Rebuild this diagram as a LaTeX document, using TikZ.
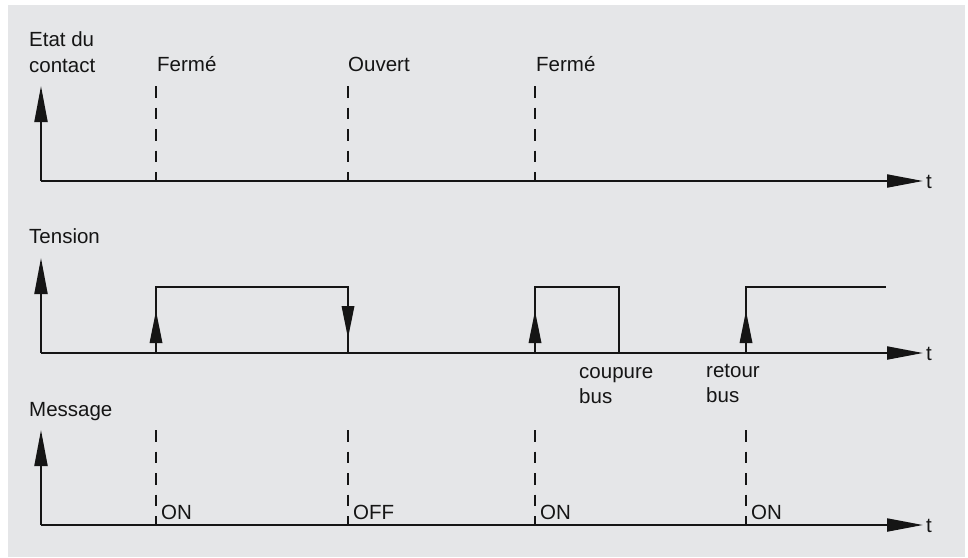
\documentclass[tikz,border=0pt]{standalone}
\usepackage{fontspec}
\setmainfont{Liberation Sans}
\usetikzlibrary{arrows.meta}
\definecolor{bg}{HTML}{E5E6E8}
\definecolor{ink}{HTML}{151515}
\begin{document}
\begin{tikzpicture}[x=1pt,y=-1pt,
  lbl/.style={anchor=base west,inner sep=0pt,text=ink,font=\fontsize{20.5}{24}\selectfont},
  axis/.style={draw=ink,line width=2pt,-{Triangle[length=36pt,width=13pt]}},
  sig/.style={draw=ink,line width=2pt},
  dashmark/.style={draw=ink,line width=2pt,dash pattern=on 11.5pt off 10pt},
  tipfill/.style={fill=ink}]
\useasboundingbox (0,0) rectangle (968,557);
\fill[bg] (8,5) rectangle (965,557);

% ---------- Section 1: Etat du contact ----------
\coordinate (o1) at (41,181);
\coordinate (y1) at (41,86);
\coordinate (x1) at (923,181);
\draw[axis] (o1) -- (y1);
\draw[axis] (o1) -- (x1);
\node[lbl] (t1) at (926,188) {t};
\node[lbl] (etat) at (29,46) {Etat du};
\node[lbl] (contact) at (29,72) {contact};
\foreach \xx/\nm in {156/a,348/b,535/c}{
  \coordinate (d1\nm) at (\xx,86);
  \coordinate (e1\nm) at (\xx,181);
  \draw[dashmark] (d1\nm) -- (e1\nm);
}
\node[lbl] (ferme1) at (157,71) {Fermé};
\node[lbl] (ouvert) at (348,71) {Ouvert};
\node[lbl] (ferme2) at (536,71) {Fermé};

% ---------- Section 2: Tension ----------
\coordinate (o2) at (41,353);
\coordinate (y2) at (41,258);
\coordinate (x2) at (923,353);
\draw[axis] (o2) -- (y2);
\draw[axis] (o2) -- (x2);
\node[lbl] (t2) at (926,360) {t};
\node[lbl] (tension) at (29,243) {Tension};
\draw[sig] (156,353) -- (156,287) -- (348,287) -- (348,353);
\draw[sig] (535,353) -- (535,287) -- (619,287) -- (619,353);
\draw[sig] (746,353) -- (746,287) -- (886,287);
% edge arrows
\fill[tipfill] (156,311) -- (149.5,343) -- (162.5,343) -- cycle;
\fill[tipfill] (348,338) -- (341.5,306) -- (354.5,306) -- cycle;
\fill[tipfill] (535,311) -- (528.5,343) -- (541.5,343) -- cycle;
\fill[tipfill] (746,311) -- (739.5,343) -- (752.5,343) -- cycle;
\node[lbl] (coupure) at (579,378) {coupure};
\node[lbl] (bus1) at (579,403) {bus};
\node[lbl] (retour) at (706,377) {retour};
\node[lbl] (bus2) at (706,402) {bus};

% ---------- Section 3: Message ----------
\coordinate (o3) at (41,525);
\coordinate (y3) at (41,430);
\coordinate (x3) at (923,525);
\draw[axis] (o3) -- (y3);
\draw[axis] (o3) -- (x3);
\node[lbl] (t3) at (926,532) {t};
\node[lbl] (message) at (29,416) {Message};
\foreach \xx/\nm in {156/a,348/b,535/c,746/d}{
  \coordinate (d3\nm) at (\xx,430);
  \coordinate (e3\nm) at (\xx,525);
  \draw[dashmark] (d3\nm) -- (e3\nm);
}
\node[lbl] (on1) at (161,519) {ON};
\node[lbl] (off) at (353,519) {OFF};
\node[lbl] (on2) at (540,519) {ON};
\node[lbl] (on3) at (751,519) {ON};
\end{tikzpicture}
\end{document}
